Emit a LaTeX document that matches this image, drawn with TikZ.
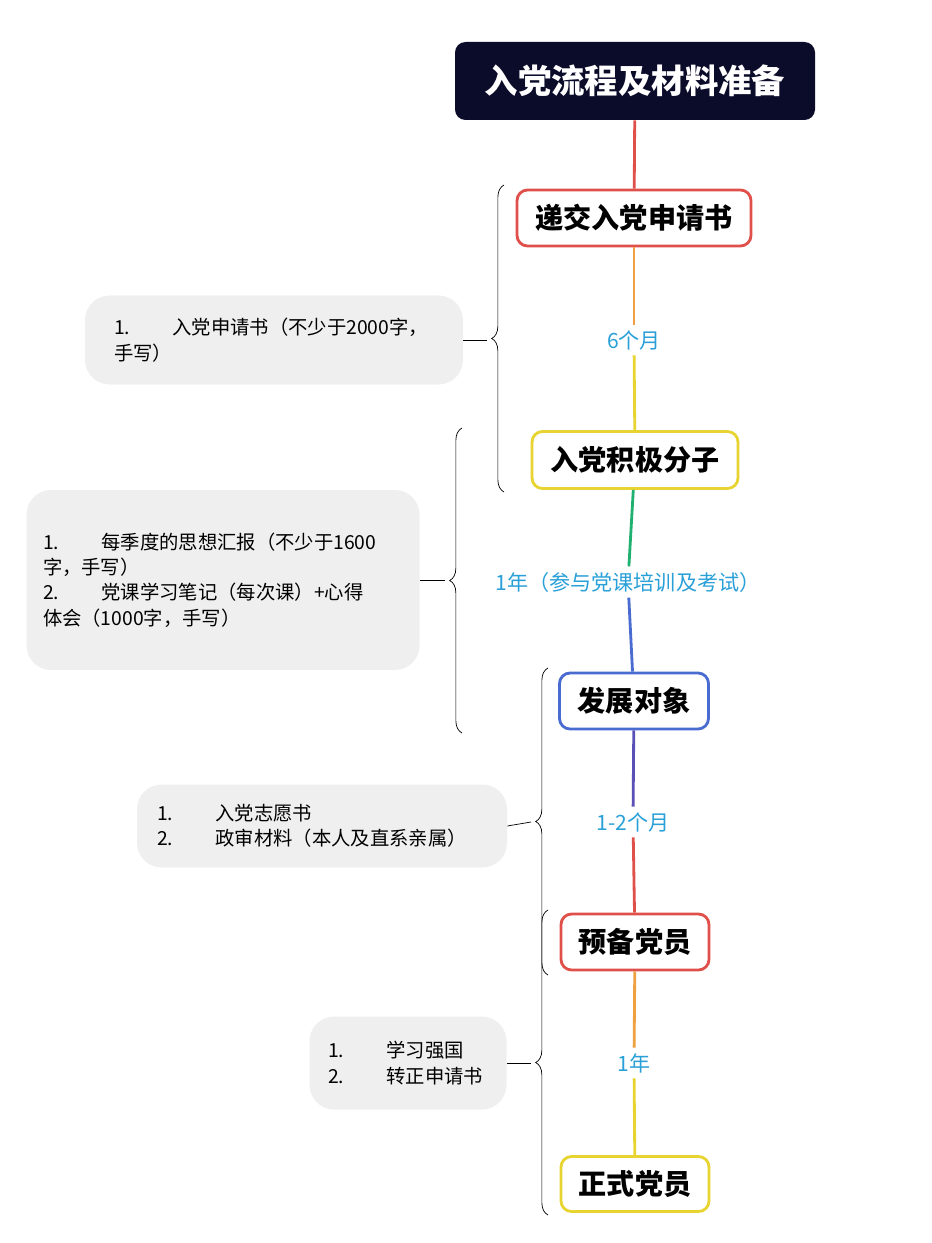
\documentclass[tikz,border=0pt]{standalone}
\usepackage{fontspec}
\setmainfont{Noto Sans CJK SC}
\usetikzlibrary{decorations.pathreplacing, calc}
\definecolor{navy}{HTML}{0B0B2A}
\definecolor{sred}{HTML}{E0504A}
\definecolor{syellow}{HTML}{E8D430}
\definecolor{sblue}{HTML}{4A6BD0}
\definecolor{sorange}{HTML}{EFA040}
\definecolor{sgreen}{HTML}{20B070}
\definecolor{spurple}{HTML}{5A50B8}
\definecolor{lblue}{HTML}{2AA0D8}
\definecolor{notegray}{HTML}{EFEFEF}
\begin{document}
\begin{tikzpicture}[x=0.02cm,y=-0.02cm,
    stage/.style={draw=#1, line width=1.6pt, rounded corners=6pt, fill=white,
      font=\fontsize{16}{18}\selectfont\bfseries, inner sep=0pt},
    gap/.style={text=lblue, fill=white, font=\fontsize{12}{14}\selectfont, inner sep=3pt},
    note/.style={fill=notegray, rounded corners=14pt, align=left, inner sep=0pt,
      font=\fontsize{11}{14.5}\selectfont},
    link/.style={line width=1.6pt}
  ]
    \useasboundingbox (0,0) rectangle (932,1243);

    \node[fill=navy, rounded corners=6pt, text=white, font=\fontsize{19}{22}\selectfont\bfseries,
      minimum width=360*0.02cm, minimum height=78*0.02cm] (title) at (635,81) {入党流程及材料准备};

    \node[stage=sred, minimum width=234*0.02cm, minimum height=56*0.02cm] (apply) at (634,218) {递交入党申请书};
    \node[stage=syellow, minimum width=206*0.02cm, minimum height=57*0.02cm] (active) at (635,460) {入党积极分子};
    \node[stage=sblue, minimum width=149*0.02cm, minimum height=56*0.02cm] (develop) at (634,701) {发展对象};
    \node[stage=sred, minimum width=148*0.02cm, minimum height=56*0.02cm] (prep) at (635,942) {预备党员};
    \node[stage=syellow, minimum width=148*0.02cm, minimum height=55*0.02cm] (formal) at (635,1184) {正式党员};

    \node[gap] (g1) at (634,340) {6个月};
    \node[gap] (g2) at (628,582) {1年（参与党课培训及考试）};
    \node[gap] (g3) at (633,822) {1-2个月};
    \node[gap] (g4) at (634,1063) {1年};

    \draw[link, sred] (title) -- (apply);
    \draw[link, sorange] (apply) -- (g1);
    \draw[link, syellow] (g1) -- (active);
    \draw[link, sgreen] (active) -- (g2);
    \draw[link, sblue] (g2) -- (develop);
    \draw[link, spurple] (develop) -- (g3);
    \draw[link, sred] (g3) -- (prep);
    \draw[link, sorange] (prep) -- (g4);
    \draw[link, syellow] (g4) -- (formal);

    % braces
    \draw[decorate, decoration={brace, amplitude=7pt}] (504,492) -- (504,185);
    \draw[decorate, decoration={brace, amplitude=7pt}] (462,733) -- (462,428);
    \draw[decorate, decoration={brace, amplitude=7pt}] (548,975) -- (548,668);
    \draw[decorate, decoration={brace, amplitude=7pt}] (548,1215) -- (548,910);

    % notes
    \node[note, minimum width=378*0.02cm, minimum height=89*0.02cm, text width=320*0.02cm] (n1) at (274,340)
      {1.\hspace{2.2em}入党申请书（不少于2000字，\\手写）};
    \node[note, minimum width=393*0.02cm, minimum height=180*0.02cm, text width=360*0.02cm] (n2) at (223,580)
      {1.\hspace{2.2em}每季度的思想汇报（不少于1600\\字，手写）\\2.\hspace{2.2em}党课学习笔记（每次课）+心得\\体会（1000字，手写）};
    \node[note, minimum width=370*0.02cm, minimum height=83*0.02cm, text width=330*0.02cm] (n3) at (322,826)
      {1.\hspace{2.2em}入党志愿书\\2.\hspace{2.2em}政审材料（本人及直系亲属）};
    \node[note, minimum width=197*0.02cm, minimum height=93*0.02cm, text width=160*0.02cm] (n4) at (408,1063)
      {1.\hspace{2.2em}学习强国\\2.\hspace{2.2em}转正申请书};

    \draw (n1.east) -- (487,340);
    \draw (n2.east) -- (445,580);
    \draw (n3.east) -- (531,822);
    \draw (n4.east) -- (531,1063);
\end{tikzpicture}
\end{document}
